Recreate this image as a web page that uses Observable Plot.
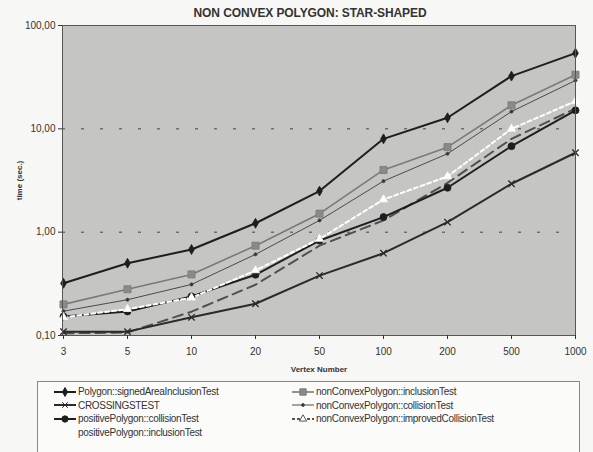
<!DOCTYPE html>
<html>
<head>
<meta charset="utf-8">
<script src="https://cdn.jsdelivr.net/npm/d3@7"></script>
<script src="https://cdn.jsdelivr.net/npm/@observablehq/plot@0.6"></script>
<style>
  html, body { margin: 0; padding: 0; background: #f7f7f5; }
  #wrap { position: relative; width: 593px; height: 452px; overflow: hidden; font-family: "Liberation Sans", Arial, sans-serif; }
  #title { position: absolute; left: 0; width: 620px; top: 6px; text-align: center; font-weight: bold; font-size: 12px; color: #333; letter-spacing: -0.1px; }
  #chart { position: absolute; left: 0; top: 0; }
  #legend { position: absolute; left: 37px; top: 381px; width: 541px; height: 80px; border: 1px solid #888; background: #fbfbfa; }
  .item { position: absolute; font-size: 10px; color: #333; display: flex; align-items: center; letter-spacing: -0.3px; }
  .item svg { margin-right: 1px; }
</style>
</head>
<body>
<div id="wrap">
  <div id="chart"></div>
  <div id="title">NON CONVEX POLYGON: STAR-SHAPED</div>
  <div id="legend"></div>
</div>
<script>
const vertexLabels = ["3", "5", "10", "20", "50", "100", "200", "500", "1000"];
const seriesNames = [
  "Polygon::signedAreaInclusionTest",
  "nonConvexPolygon::inclusionTest",
  "CROSSINGSTEST",
  "nonConvexPolygon::collisionTest",
  "positivePolygon::collisionTest",
  "nonConvexPolygon::improvedCollisionTest",
  "positivePolygon::inclusionTest"
];
const signedArea   = [0.32, 0.50, 0.68, 1.22, 2.5, 8.0, 12.8, 32.4, 54];
const ncInclusion  = [0.20, 0.28, 0.39, 0.74, 1.51, 4.0, 6.65, 16.9, 33.4];
const crossings    = [0.109, 0.109, 0.15, 0.203, 0.38, 0.626, 1.25, 2.94, 5.87];
const ncCollision  = [0.172, 0.222, 0.312, 0.61, 1.30, 3.12, 5.74, 14.7, 29.4];
const posCollision = [0.153, 0.171, 0.239, 0.387, 0.83, 1.40, 2.69, 6.8, 15.1];
const ncImproved   = [0.15, 0.18, 0.232, 0.426, 0.86, 2.07, 3.46, 10.0, 18.5];
const posInclusion = [0.105, 0.107, 0.17, 0.31, 0.74, 1.3, 3.0, 8.0, 15.7];
const yTicks = [0.1, 1, 10, 100];
const gridValues = [1, 10];

const seriesValues = [signedArea, ncInclusion, crossings, ncCollision, posCollision, ncImproved, posInclusion];
const styles = [
  {stroke: "#1e1e1e", width: 2, dash: null, symbol: "diamond", r: 3, fill: "#1e1e1e"},
  {stroke: "#7a7a7a", width: 1.6, dash: null, symbol: "square", r: 4, fill: "#8a8a8a"},
  {stroke: "#2a2a2a", width: 2, dash: null, symbol: "times", r: 3, fill: "none"},
  {stroke: "#4a4a4a", width: 1, dash: null, symbol: "circle", r: 1.6, fill: "#333"},
  {stroke: "#1e1e1e", width: 2, dash: null, symbol: "circle", r: 3.5, fill: "#1e1e1e"},
  {stroke: "#ffffff", width: 2, dash: "4,3", symbol: "triangle", r: 3, fill: "#ffffff"},
  {stroke: "#505050", width: 2, dash: "10,6", symbol: null, r: 0, fill: "none"}
];

const data = seriesNames.map((name, i) => ({
  name, style: styles[i],
  rows: vertexLabels.map((v, j) => ({x: v, y: seriesValues[i][j], s: name}))
}));

const order = [6, 2, 4, 3, 1, 0, 5];
const marks = [
  Plot.frame({fill: "#c5c5c3", stroke: null}),
  Plot.ruleY(gridValues, {stroke: "#444", strokeWidth: 1, strokeDasharray: "3,16"})
];
for (const i of order) {
  const d = data[i], st = d.style;
  marks.push(Plot.line(d.rows, {x: "x", y: "y", stroke: st.stroke, strokeWidth: st.width, strokeDasharray: st.dash}));
}
for (const i of order) {
  const d = data[i], st = d.style;
  if (!st.symbol) continue;
  marks.push(Plot.dot(d.rows, {x: "x", y: "y", symbol: () => st.symbol, r: st.r, fill: st.fill, stroke: st.symbol === "times" ? st.stroke : (i === 5 ? "#ffffff" : st.stroke), strokeWidth: st.symbol === "times" ? 1.3 : 0.8}));
}
marks.push(Plot.frame({stroke: "#555", strokeWidth: 1}));
marks.push(Plot.axisY(yTicks, {tickSize: 4, tickPadding: 3, tickFormat: d => d.toFixed(2).replace(".", ","), fontSize: 10, label: "time (sec.)", labelAnchor: "center", labelArrow: "none", labelOffset: 46}));
marks.push(Plot.axisX({tickSize: 4, tickPadding: 8, fontSize: 10, label: "Vertex Number", labelAnchor: "center", labelArrow: "none", labelOffset: 36}));

const chart = Plot.plot({
  width: 593,
  height: 380,
  marginTop: 25,
  marginBottom: 45,
  marginLeft: 62,
  marginRight: 18,
  style: {background: "transparent", fontFamily: "Liberation Sans, Arial, sans-serif", color: "#333"},
  x: {type: "point", domain: vertexLabels, padding: 0},
  y: {type: "log", domain: [0.1, 100]},
  marks
});
chart.querySelectorAll("g[aria-label='y-axis label'] text, g[aria-label='x-axis label'] text").forEach(t => {
  t.setAttribute("font-weight", "bold");
  t.setAttribute("font-size", "8");
});
document.getElementById("chart").appendChild(chart);

const legend = document.getElementById("legend");
const positions = [[0, 0], [1, 0], [0, 1], [1, 1], [0, 2], [1, 2], [0, 3]];
const sampleStyles = styles.map((s, i) => i === 5 ? {...s, stroke: "#555", fill: "#fff"} : s);
seriesNames.forEach((name, i) => {
  const [col, row] = positions[i];
  const el = document.createElement("div");
  el.className = "item";
  el.style.left = (col === 0 ? 15 : 253) + "px";
  el.style.top = (4 + row * 13.6) + "px";
  const st = sampleStyles[i];
  const ns = "http://www.w3.org/2000/svg";
  const svg = document.createElementNS(ns, "svg");
  svg.setAttribute("width", 24); svg.setAttribute("height", 10);
  if (i !== 6) {
    const ln = document.createElementNS(ns, "line");
    ln.setAttribute("x1", 1); ln.setAttribute("x2", 23); ln.setAttribute("y1", 5); ln.setAttribute("y2", 5);
    ln.setAttribute("stroke", st.stroke); ln.setAttribute("stroke-width", st.width);
    if (st.dash) ln.setAttribute("stroke-dasharray", "3,2");
    svg.appendChild(ln);
    if (st.symbol) {
      const sym = {diamond: d3.symbolDiamond, square: d3.symbolSquare, times: d3.symbolTimes, circle: d3.symbolCircle, triangle: d3.symbolTriangle}[st.symbol];
      const p = document.createElementNS(ns, "path");
      const size = Math.PI * st.r * st.r * 0.8;
      p.setAttribute("d", d3.symbol(sym, size)());
      p.setAttribute("transform", "translate(12,5)");
      p.setAttribute("fill", st.fill); p.setAttribute("stroke", st.stroke);
      p.setAttribute("stroke-width", 1);
      svg.appendChild(p);
    }
  }
  el.appendChild(svg);
  const span = document.createElement("span");
  span.textContent = name;
  el.appendChild(span);
  legend.appendChild(el);
});
</script>
</body>
</html>
